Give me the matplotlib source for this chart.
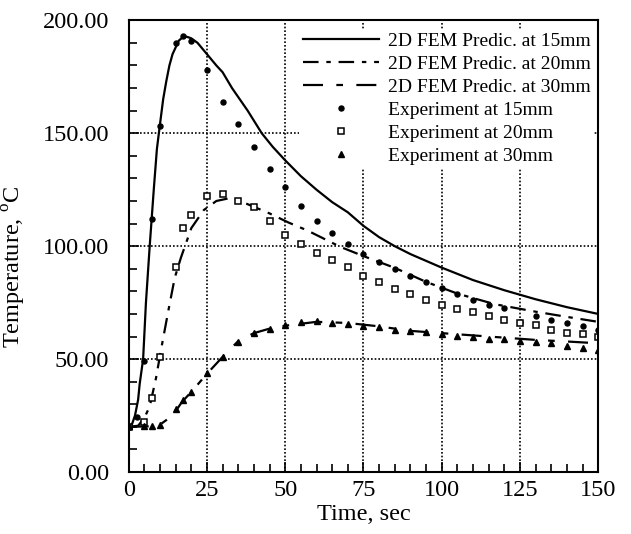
import matplotlib
matplotlib.use("Agg")
import matplotlib.pyplot as plt
from matplotlib.ticker import MultipleLocator

plt.rcParams["font.family"] = ["Liberation Serif", "DejaVu Serif"]
plt.rcParams["mathtext.fontset"] = "custom"
plt.rcParams["mathtext.rm"] = "Liberation Serif"

# FEM predictions
fem15_t = [0, 1, 2, 3, 3.5, 4.6, 5.5, 6.7, 8, 9, 9.9, 11, 12, 13, 14, 15, 16, 17.7, 19, 20,
           22, 25, 28, 30, 33, 35, 38, 42.5, 46, 50, 55, 60, 65, 70, 75, 80, 85, 90, 100,
           110, 120, 125, 130, 140, 150]
fem15_T = [20, 21, 25, 32, 39, 50, 75, 100, 125, 143, 153, 165, 173, 180, 185, 188, 191, 193, 192.5, 192,
           190, 185, 180, 177, 170, 166, 160, 150, 144, 138, 131, 125, 119.5, 115, 109, 104, 100, 96.5, 90.5,
           85, 80.5, 78.5, 76.5, 73, 70]

fem20_t = [0, 3, 5, 6.7, 8.7, 10.5, 12.6, 14.7, 16.7, 20, 24, 28, 33, 39, 45, 51, 57, 67.6,
           75, 85, 95, 105, 117, 130, 140, 150]
fem20_T = [20, 20.5, 24, 29, 41.5, 55.5, 71, 86, 95, 108, 116, 120, 121.5, 118, 114.5, 110.5, 107, 99.7,
           95.6, 90.4, 84.2, 79, 74.3, 71, 68.7, 66.5]

fem30_t = [0, 8, 10, 12, 15, 17, 20, 25, 30, 35, 40, 45, 50, 60, 70, 80, 90, 100, 110, 120,
           130, 140, 150]
fem30_T = [20, 20.3, 21, 23, 27, 31, 35.5, 43.5, 51, 58, 61.5, 63.5, 64.8, 66.5, 66, 64.5, 62.5, 61.5, 60.5, 59.5,
           58.5, 57.8, 57]

# experiments
exp15_t = [0, 2.5, 5, 7.5, 10, 15, 17.5, 20, 25, 30, 35, 40, 45, 50, 55, 60, 65, 70, 75, 80,
           85, 90, 95, 100, 105, 110, 115, 120, 125, 130, 135, 140, 145, 150]
exp15_T = [20, 24.5, 49, 112, 153, 190, 193, 191, 178, 164, 154, 144, 134, 126, 118, 111, 106, 101, 96.5, 93,
           90, 87, 84, 81.5, 79, 76, 74, 72.5, 66.5, 69, 67.5, 66, 64.6, 63]

exp20_t = [0, 5, 7.5, 10, 15, 17.5, 20, 25, 30, 35, 40, 45, 50, 55, 60, 65, 70, 75, 80, 85,
           90, 95, 100, 105, 110, 115, 120, 125, 130, 135, 140, 145, 150]
exp20_T = [20, 22, 33, 51, 90.6, 108, 114, 122, 123, 120, 117.5, 111, 105, 101, 97, 94, 90.6, 87, 84, 81,
           79, 76, 74, 72, 70.7, 69, 67.5, 66, 65, 63, 61.6, 61.3, 60]

exp30_t = [0, 5, 7.5, 10, 15, 17.5, 20, 25, 30, 35, 40, 45, 50, 55, 60, 65, 70, 75, 80, 85,
           90, 95, 100, 105, 110, 115, 120, 125, 130, 135, 140, 145, 150]
exp30_T = [20.5, 20.4, 20.4, 21, 27.7, 32, 35.5, 44, 51, 57.7, 61.6, 63.3, 65, 66.5, 67, 66, 65.5, 64.6, 64, 63,
           62.4, 61.8, 61, 60.3, 59.6, 59, 58.7, 58, 57.7, 57, 56, 55, 54]

fig = plt.figure(figsize=(6.31, 5.34), dpi=100)
ax = fig.add_axes([0.204, 0.116, 0.744, 0.846])

ax.plot(fem15_t, fem15_T, color="black", lw=1.6, ls="-", label="2D FEM Predic. at 15mm")
ax.plot(fem20_t, fem20_T, color="black", lw=1.6, ls=(0, (7, 3.5, 2, 3.5)), label="2D FEM Predic. at 20mm")
ax.plot(fem30_t, fem30_T, color="black", lw=1.6, ls=(0, (9, 6, 3, 6)), label="2D FEM Predic. at 30mm")
ax.plot(exp15_t, exp15_T, ls="none", marker="o", ms=3.6, color="black", label="Experiment at 15mm")
ax.plot(exp20_t, exp20_T, ls="none", marker="s", ms=4, mfc="white", mec="black", mew=1.1,
        label="Experiment at 20mm")
ax.plot(exp30_t, exp30_T, ls="none", marker="^", ms=4.2, color="black", label="Experiment at 30mm")

ax.set_xlim(0, 150)
ax.set_ylim(0, 200)
ax.xaxis.set_major_locator(MultipleLocator(25))
ax.xaxis.set_minor_locator(MultipleLocator(5))
ax.yaxis.set_major_locator(MultipleLocator(50))
ax.yaxis.set_minor_locator(MultipleLocator(10))
ax.yaxis.set_major_formatter(matplotlib.ticker.FormatStrFormatter("%.2f"))
ax.tick_params(which="both", direction="in", top=False, right=False, labelsize=17.5, width=1.2)
ax.tick_params(which="major", length=7, pad=6)
ax.tick_params(which="minor", length=6)
ax.tick_params(axis="y", which="major", pad=14)
ax.grid(True, which="major", color="black", ls=(0, (1, 1.2)), lw=1.2)
for s in ax.spines.values():
    s.set_linewidth(1.5)

ax.set_xlabel("Time, sec", fontsize=17.5, labelpad=2)
ax.set_ylabel(r"Temperature, $^{\rm o}$C", fontsize=17.5)
ax.yaxis.set_label_coords(-0.215, 0.455)

leg = ax.legend(loc="upper right", bbox_to_anchor=(1.0, 0.99), fontsize=14, frameon=True,
                facecolor="white", edgecolor="none", framealpha=1, fancybox=False,
                handlelength=3.9, handletextpad=0.45, labelspacing=0.27,
                borderpad=0.2, borderaxespad=0.2)

fig.savefig("out.png", dpi=100)
